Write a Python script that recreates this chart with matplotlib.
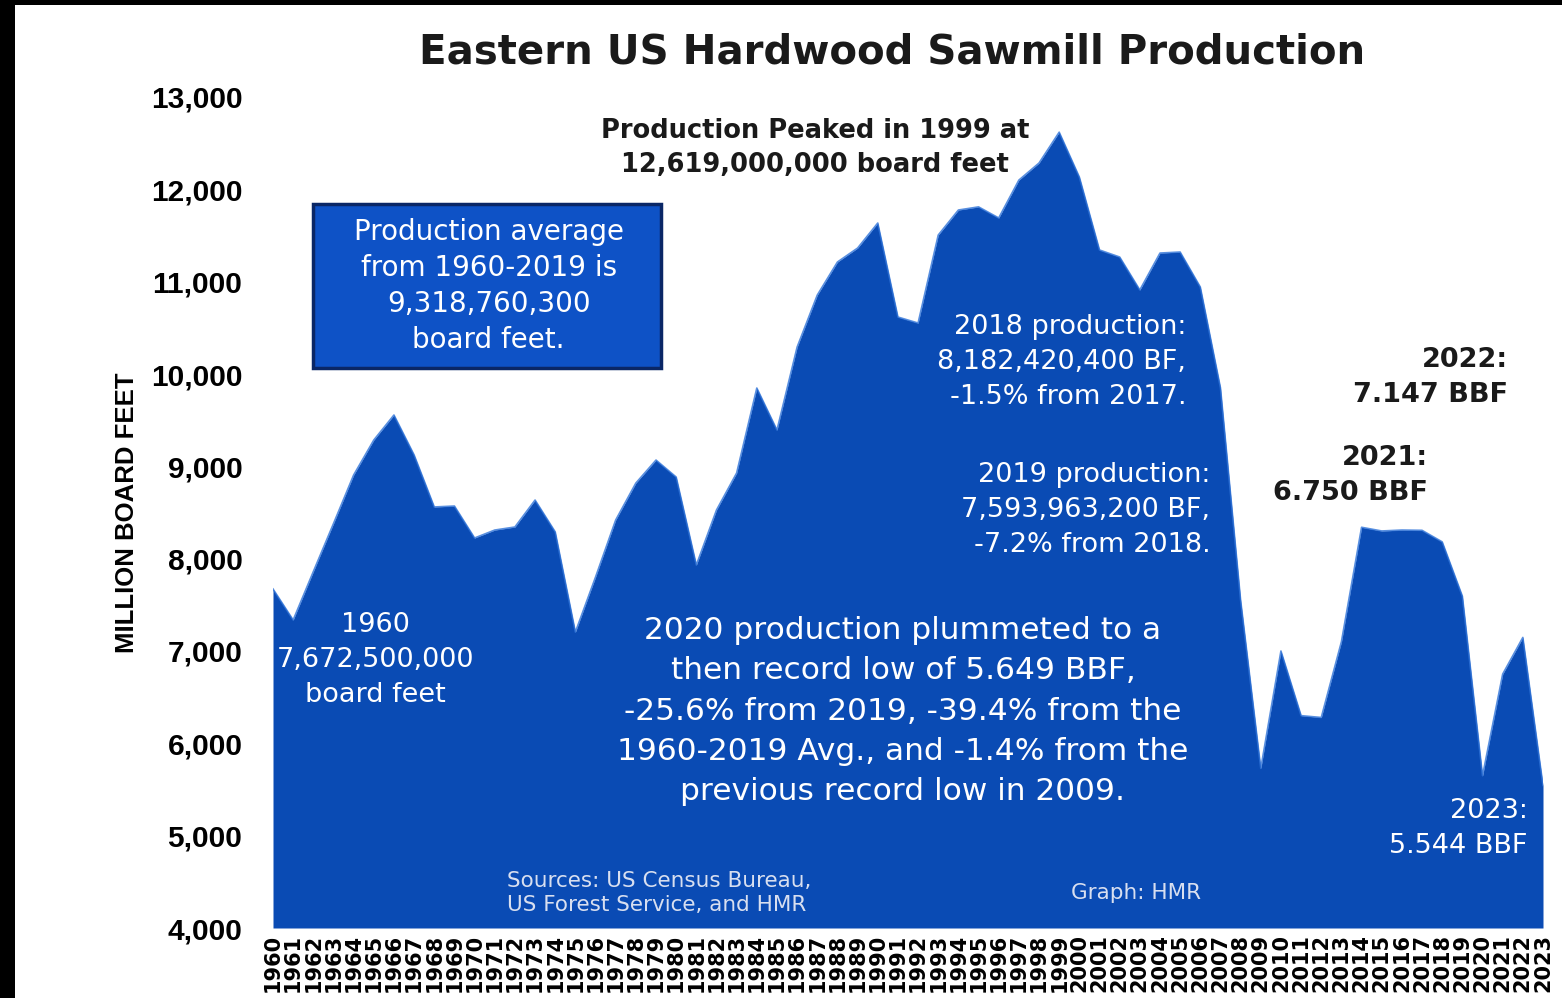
import matplotlib
matplotlib.use("Agg")
import matplotlib.pyplot as plt
from matplotlib.patches import Rectangle

plt.rcParams['font.family'] = ['DejaVu Sans']

# data (million board feet)
years = list(range(1960, 2024))
production = [
    7672, 7336, 7860, 8380, 8906, 9285, 9556, 9123, 8560, 8570,     # 1960-69
    8224, 8310, 8343, 8635, 8290, 7205, 7801, 8419, 8819, 9068,     # 1970-79
    8884, 7931, 8527, 8928, 9848, 9393, 10292, 10855, 11213, 11364, # 1980-89
    11635, 10617, 10552, 11505, 11776, 11810, 11690, 12100, 12285, 12619,  # 1990-99
    12133, 11343, 11267, 10910, 11310, 11321, 10942, 9850, 7550, 5729,     # 2000-09
    7000, 6300, 6280, 7100, 8340, 8300, 8310, 8307, 8182, 7594,     # 2010-19
    5649, 6750, 7147, 5544,                                         # 2020-23
]
yticks = list(range(4000, 13001, 1000))

area_blue = '#0a4bb4'
box_blue = '#0e52c6'
dark = '#1a1a1a'

fig = plt.figure(figsize=(15.62, 9.98), dpi=100)
ax = fig.add_axes([273 / 1562, 1 - 928 / 998, 1270 / 1562, 831 / 998])

ax.fill_between(years, production, 4000, color=area_blue, lw=0)
ax.plot(years, production, color='#2f73d8', lw=1.2, alpha=0.8)

ax.set_xlim(1960, 2023)
ax.set_ylim(4000, 13000)
ax.set_yticks(yticks)
ax.set_yticklabels([f'{v:,}' for v in yticks], fontsize=21.5, fontweight='bold',
                   family='Liberation Sans')
ax.set_xticks(years)
ax.set_xticklabels([str(y) for y in years], rotation=90, fontsize=15,
                   fontweight='bold')
ax.tick_params(axis='y', length=0, pad=22)
ax.tick_params(axis='x', length=0, pad=4)
for s in ax.spines.values():
    s.set_visible(False)
ax.set_ylabel('MILLION BOARD FEET', fontsize=18.5, fontweight='bold',
              family='Liberation Sans')
ax.yaxis.set_label_coords(-0.1055, 0.5)

fig.text(892 / 1562, 1 - 53 / 998, 'Eastern US Hardwood Sawmill Production',
         ha='center', va='center', fontsize=29, fontweight='bold', color=dark)

# annotations
ax.text(1986.9, 12447, 'Production Peaked in 1999 at\n12,619,000,000 board feet',
        ha='center', va='center', fontsize=18.5, fontweight='bold',
        color=dark, linespacing=1.4)

ax.add_patch(Rectangle((1962.0, 10065), 17.25, 1776, facecolor=box_blue,
                       edgecolor='#0a2766', lw=2.5, zorder=3))
ax.text(1970.7, 10953, 'Production average\nfrom 1960-2019 is\n9,318,760,300\nboard feet.',
        ha='center', va='center', fontsize=20, color='white',
        linespacing=1.37, zorder=4)

ax.text(1965.1, 6903, '1960\n7,672,500,000\nboard feet', ha='center', va='center',
        fontsize=19.5, color='white', linespacing=1.43)

ax.text(2005.3, 10130, '2018 production:\n8,182,420,400 BF,\n-1.5% from 2017.',
        ha='right', va='center', fontsize=19.5, color='white', linespacing=1.43)
ax.text(2006.5, 8527, '2019 production:\n7,593,963,200 BF,\n-7.2% from 2018.',
        ha='right', va='center', fontsize=19.5, color='white', linespacing=1.43)

ax.text(1991.25, 6350,
        '2020 production plummeted to a\nthen record low of 5.649 BBF,\n'
        '-25.6% from 2019, -39.4% from the\n1960-2019 Avg., and -1.4% from the\n'
        'previous record low in 2009.',
        ha='center', va='center', fontsize=22.5, color='white', linespacing=1.48)

ax.text(2021.26, 9957, '2022:\n7.147 BBF', ha='right', va='center',
        fontsize=19.5, fontweight='bold', color=dark, linespacing=1.45)
ax.text(2017.29, 8906, '2021:\n6.750 BBF', ha='right', va='center',
        fontsize=19.5, fontweight='bold', color=dark, linespacing=1.45)
ax.text(2022.25, 5083, '2023:\n5.544 BBF', ha='right', va='center',
        fontsize=19.5, color='white', linespacing=1.45)

ax.text(1971.6, 4379, 'Sources: US Census Bureau,\nUS Forest Service, and HMR',
        ha='left', va='center', fontsize=15.5, color='#d8dff0', linespacing=1.3)
ax.text(1999.6, 4379, 'Graph: HMR', ha='left', va='center', fontsize=15.5,
        color='#d8dff0')

# black frame on top and left edges of the scan
fig.patches.append(Rectangle((0, 1 - 5 / 998), 1, 5 / 998, transform=fig.transFigure,
                             facecolor='black', lw=0))
fig.patches.append(Rectangle((0, 0), 15 / 1562, 1, transform=fig.transFigure,
                             facecolor='black', lw=0))

fig.savefig('out.png', dpi=100)
